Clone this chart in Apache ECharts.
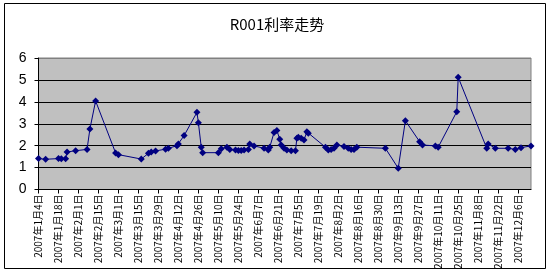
<!DOCTYPE html>
<html>
<head>
<meta charset="utf-8">
<script src="https://cdn.jsdelivr.net/npm/echarts@6/dist/echarts.min.js"></script>
<style>
html,body{margin:0;padding:0;background:#fff;}
#c{width:554px;height:277px;}
</style>
</head>
<body>
<div id="c"></div>
<script>
// Data
const titleText = 'R001利率走势';
const axisStartDate = '2007-01-04';
const axisEndDate = '2007-12-15';
const tickDays = 14;
const yTicks = [0, 1, 2, 3, 4, 5, 6];

const dates = [
  '2007-01-04','2007-01-09','2007-01-18','2007-01-20','2007-01-23','2007-01-24','2007-01-30',
  '2007-02-07','2007-02-09','2007-02-13','2007-02-27',
  '2007-03-01','2007-03-17','2007-03-22','2007-03-24','2007-03-27',
  '2007-04-03','2007-04-05','2007-04-11','2007-04-12','2007-04-16','2007-04-25','2007-04-26','2007-04-28','2007-04-29',
  '2007-05-10','2007-05-12','2007-05-16','2007-05-18','2007-05-22','2007-05-24','2007-05-26','2007-05-28','2007-05-31',
  '2007-06-01','2007-06-04','2007-06-11','2007-06-14','2007-06-15','2007-06-18','2007-06-20','2007-06-22','2007-06-23','2007-06-25','2007-06-27','2007-06-30',
  '2007-07-03','2007-07-04','2007-07-05','2007-07-07','2007-07-09','2007-07-11','2007-07-12','2007-07-24','2007-07-26','2007-07-28','2007-07-30',
  '2007-08-01','2007-08-06','2007-08-09','2007-08-11','2007-08-13','2007-08-15',
  '2007-09-04','2007-09-13','2007-09-18','2007-09-28','2007-09-30',
  '2007-10-09','2007-10-11','2007-10-24','2007-10-25',
  '2007-11-14','2007-11-15','2007-11-20','2007-11-29',
  '2007-12-04','2007-12-08','2007-12-15'
];
const rates = [
  1.41,1.38,1.41,1.40,1.40,1.71,1.77,
  1.83,2.76,4.04,1.67,
  1.59,1.39,1.65,1.71,1.76,
  1.84,1.88,2.00,2.08,2.46,3.52,3.05,1.93,1.68,
  1.68,1.86,1.93,1.83,1.80,1.78,1.78,1.80,1.83,
  2.08,1.99,1.88,1.80,1.93,2.60,2.69,2.29,2.03,1.88,1.80,1.77,
  1.77,2.34,2.38,2.34,2.26,2.63,2.57,1.93,1.80,1.83,1.88,
  2.03,1.96,1.88,1.83,1.83,1.93,
  1.88,0.97,3.14,2.18,2.03,
  1.99,1.93,3.55,5.12,
  1.88,2.08,1.88,1.88,
  1.83,1.91,1.99
];

const DAY = 86400000;
function toUTC(s){ const p = s.split('-').map(Number); return Date.UTC(p[0], p[1]-1, p[2]); }
const base = toUTC(axisStartDate);
const dayOf = s => Math.round((toUTC(s) - base) / DAY);
const seriesData = dates.map((d, i) => [dayOf(d), rates[i]]);
function fmtDay(v){
  const dt = new Date(base + v * DAY);
  return dt.getUTCFullYear() + '年' + (dt.getUTCMonth()+1) + '月' + dt.getUTCDate() + '日';
}

const chart = echarts.init(document.getElementById('c'), null, {renderer:'canvas'});
chart.setOption({
  animation: false,
  backgroundColor: '#ffffff',
  title: {
    text: titleText, left: 'center', top: 12,
    textStyle: {fontFamily: '"Noto Sans CJK SC", sans-serif', fontSize: 15, fontWeight: 'normal', color: '#000'}
  },
  graphic: [{
    type: 'rect', shape: {x: 4.5, y: 3.5, width: 541, height: 265}, silent: true,
    style: {fill: 'none', stroke: '#000', lineWidth: 1}
  }],
  grid: {
    left: 38.5, right: 23, top: 58, bottom: 87.5,
    show: true, backgroundColor: '#c0c0c0', borderColor: '#808080', borderWidth: 1,
    containLabel: false, outerBoundsMode: 'none'
  },
  xAxis: {
    type: 'value', min: 0, max: dayOf(axisEndDate), interval: tickDays,
    axisLine: {show: true, onZero: false, lineStyle: {color: '#000', width: 1}},
    axisTick: {show: true, length: 4, inside: false, lineStyle: {color: '#000'}},
    splitLine: {show: false},
    axisLabel: {
      rotate: 90, margin: 5, showMaxLabel: false, formatter: fmtDay,
      fontFamily: '"Noto Sans CJK SC", sans-serif', fontSize: 10, color: '#000'
    }
  },
  yAxis: {
    type: 'value', min: yTicks[0], max: yTicks[yTicks.length-1], interval: 1,
    axisLine: {show: true, lineStyle: {color: '#000', width: 1}},
    axisTick: {show: true, length: 4, lineStyle: {color: '#000'}},
    splitLine: {show: true, lineStyle: {color: ['#000','#000','#000','#000','#000','#000','#808080'], width: 1}},
    axisLabel: {margin: 12, fontFamily: '"Liberation Sans", Arial, sans-serif', fontSize: 14, color: '#000'}
  },
  series: [{
    type: 'line', data: seriesData,
    symbol: 'diamond', symbolSize: 7, showAllSymbol: true,
    lineStyle: {color: '#000080', width: 1},
    itemStyle: {color: '#000080'}
  }]
});
</script>
</body>
</html>
